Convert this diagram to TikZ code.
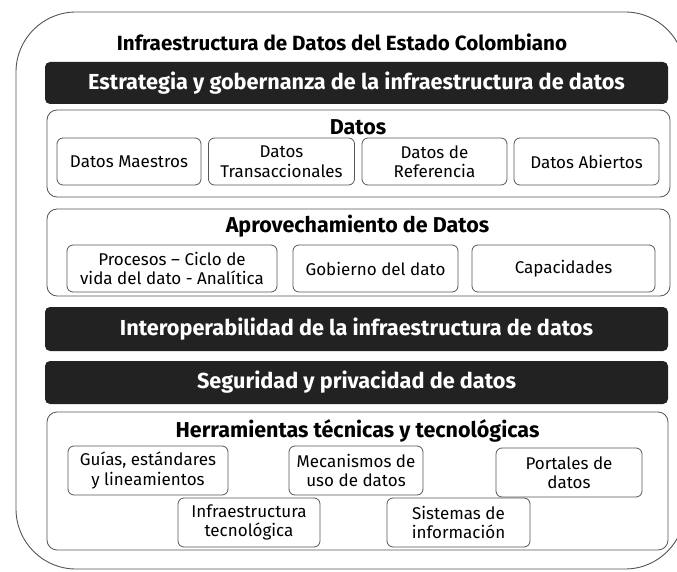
\documentclass[tikz,border=0pt]{standalone}
\usepackage{fontspec}
\setmainfont{Fira Sans}
\definecolor{barcol}{HTML}{222222}
\definecolor{linecol}{HTML}{555555}
\begin{document}
\begin{tikzpicture}[x=1pt,y=-1pt,
  bar/.style={fill=barcol, rounded corners=5pt, text=white, inner sep=0pt,
    font=\fontsize{21.7}{24}\selectfont\bfseries},
  group/.style={draw=linecol, line width=0.8pt, rounded corners=10pt},
  inbox/.style={draw=linecol, line width=0.8pt, rounded corners=6pt, align=center, inner sep=0pt,
    font=\fontsize{17}{19.5}\selectfont},
  gtitle/.style={font=\fontsize{21.5}{24}\selectfont\bfseries, inner sep=0pt}]
\useasboundingbox (0,0) rectangle (677,572);
\clip (0,0) rectangle (677,572);
\draw[linecol, line width=0.9pt, rounded corners=60pt] (16,12) rectangle (685,569);
\node[gtitle, font=\fontsize{20.6}{23}\selectfont\bfseries] (title) at (342,42) {Infraestructura de Datos del Estado Colombiano};
% bar 1
\node[bar, minimum width=623pt, minimum height=42pt] (estr) at (356.5,83) {Estrategia y gobernanza de la infraestructura de datos};
% Datos group
\node[group, minimum width=623pt, minimum height=87pt] (datos) at (358.5,153.5) {};
\node[gtitle] (datost) at (358,127) {Datos};
\node[inbox, minimum width=144pt, minimum height=47pt] (dm) at (129,161.5) {Datos Maestros};
\node[inbox, minimum width=146pt, minimum height=47pt] (dt) at (281.5,161.5) {Datos\\Transaccionales};
\node[inbox, minimum width=145pt, minimum height=47pt] (dr) at (434.5,161.5) {Datos de\\Referencia};
\node[inbox, minimum width=145pt, minimum height=47pt] (da) at (586.5,161.5) {Datos Abiertos};
% Aprovechamiento group
\node[group, minimum width=623pt, minimum height=87pt] (aprov) at (358.5,252.5) {};
\node[gtitle] (aprovt) at (357.5,226) {Aprovechamiento de Datos};
\node[inbox, minimum width=210pt, minimum height=47pt] (proc) at (172,268.5) {Procesos – Ciclo de\\vida del dato - Analítica};
\node[inbox, minimum width=165pt, minimum height=47pt] (gob) at (375.5,268.5) {Gobierno del dato};
\node[inbox, minimum width=183pt, minimum height=47pt] (cap) at (563.5,268.5) {Capacidades};
% bars 2,3
\node[bar, minimum width=623pt, minimum height=44pt] (inter) at (356.5,329) {Interoperabilidad de la infraestructura de datos};
\node[bar, minimum width=623pt, minimum height=43pt] (seg) at (356.5,382.5) {Seguridad y privacidad de datos};
% Herramientas group
\node[group, minimum width=621pt, minimum height=138pt] (herr) at (357.5,481) {};
\node[gtitle] (herrt) at (357.5,431) {Herramientas técnicas y tecnológicas};
\node[inbox, minimum width=160pt, minimum height=49pt] (guias) at (148,470.5) {Guías, estándares\\y lineamientos};
\node[inbox, minimum width=134pt, minimum height=49pt] (mec) at (356,470.5) {Mecanismos de\\uso de datos};
\node[inbox, minimum width=146pt, minimum height=49pt] (port) at (569,472.5) {Portales de\\datos};
\node[inbox, minimum width=142pt, minimum height=49pt] (infra) at (249,522.5) {Infraestructura\\tecnológica};
\node[inbox, minimum width=143pt, minimum height=49pt] (sis) at (458.5,522.5) {Sistemas de\\información};
\end{tikzpicture}
\end{document}
